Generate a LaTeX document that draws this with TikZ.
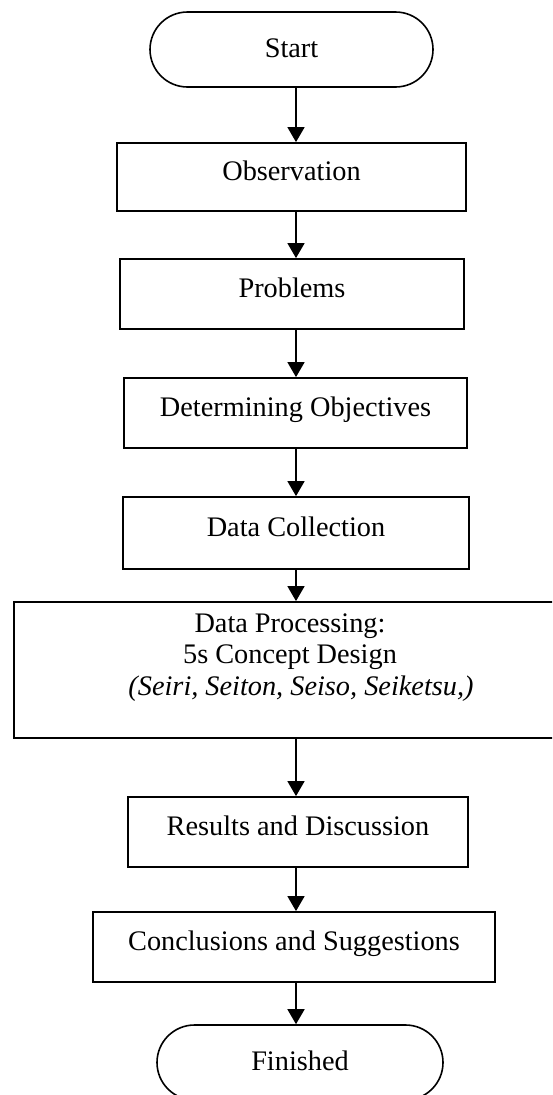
\documentclass[tikz,border=0pt]{standalone}
\usepackage{fontspec}
\setmainfont{Liberation Serif}
\usetikzlibrary{arrows.meta}
\begin{document}
\begin{tikzpicture}[x=1pt,y=-1pt,
  txt/.style={font=\fontsize{28.3}{31.5}\selectfont},
  stepbox/.style={txt, draw, line width=1.8pt, rectangle, inner sep=0pt,
    text height=20pt, text depth=13.2pt},
  terminal/.style={txt, draw, line width=1.6pt, rectangle, rounded corners=37.5pt,
    inner sep=0pt, minimum height=75pt, text height=20pt, text depth=3.2pt},
  flow/.style={line width=1.6pt, -{Triangle[width=17pt,length=15pt]}}]

\useasboundingbox (0,0) rectangle (552,1095);
\clip (0,0) rectangle (552,1095);

% vertical line carrying the arrows
\coordinate (spine) at (296,0);

% terminals
\node[terminal, minimum width=283pt] (start) at (291.5,49.5) {Start};
\node[terminal, minimum width=286pt] (fin) at (300,1062.5) {Finished};

% process steps
\node[stepbox, minimum width=349pt, minimum height=68pt] (obs)  at (291.5,177) {Observation};
\node[stepbox, minimum width=344pt, minimum height=70pt] (prob) at (292,294) {Problems};
\node[stepbox, minimum width=343pt, minimum height=70pt] (obj)  at (295.5,413) {Determining Objectives};
\node[stepbox, minimum width=346pt, minimum height=72pt] (coll) at (296,533) {Data Collection};
\node[draw, line width=1.8pt, rectangle, inner sep=0pt,
      minimum width=546pt, minimum height=136pt] (proc) at (287,670) {};
\node[txt, align=center, inner sep=0pt] (proctext) at (290,657.5)
  {Data Processing:\\5s Concept Design\\\hspace*{22pt}\textit{(Seiri, Seiton, Seiso, Seiketsu,)}};
\node[stepbox, minimum width=340pt, minimum height=70pt] (res)  at (298,832) {Results and Discussion};
\node[stepbox, minimum width=402pt, minimum height=70pt] (conc) at (294,947) {Conclusions and Suggestions};

% connectors
\draw[flow] (start.south -| spine) -- (obs.north -| spine);
\draw[flow] (obs.south -| spine)   -- (prob.north -| spine);
\draw[flow] (prob.south -| spine)  -- (obj.north -| spine);
\draw[flow] (obj.south -| spine)   -- (coll.north -| spine);
\draw[flow] (coll.south -| spine)  -- (proc.north -| spine);
\draw[flow] (proc.south -| spine)  -- (res.north -| spine);
\draw[flow] (res.south -| spine)   -- (conc.north -| spine);
\draw[flow] (conc.south -| spine)  -- (fin.north -| spine);
\end{tikzpicture}
\end{document}
